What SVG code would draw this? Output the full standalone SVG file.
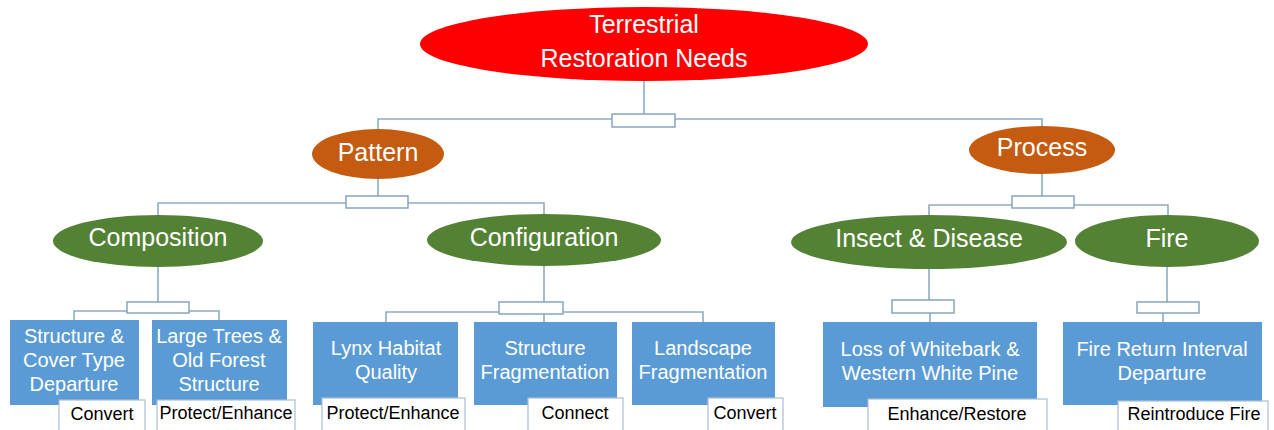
<svg xmlns="http://www.w3.org/2000/svg" width="1274" height="430" viewBox="0 0 1274 430">
<style>
.root{fill:#ff0000}
.lvl1{fill:#c55a11}
.lvl2{fill:#548235}
.box{fill:#5b9bd5}
.lbl{fill:#ffffff;stroke:#a9bfd3;stroke-width:1.2}
.conn{fill:none;stroke:#8eacc4;stroke-width:1.6}
.jn{fill:#ffffff;stroke:#7f9fba;stroke-width:1.4}
.t{font-family:"Liberation Sans",Arial,sans-serif;text-anchor:middle}
.te{fill:#ffffff;font-size:25px}
.tb{fill:#ffffff;font-size:20px}
.tl{fill:#000000;font-size:18px}
</style>
<rect width="1274" height="430" fill="#ffffff"/>
<g id="connectors">
<path class="conn" d="M644 81V114M378 129V119H612M675 119H1042V127"/>
<rect class="jn" x="612" y="114" width="63" height="13"/>
<path class="conn" d="M378 179V196M158 215V203H346M408 203H544V215"/>
<rect class="jn" x="346" y="196" width="62" height="12"/>
<path class="conn" d="M1042 174V196M929 216V205H1012M1074 205H1168V216"/>
<rect class="jn" x="1012" y="196" width="62" height="12"/>
<path class="conn" d="M158 267V302M74 320V311H127M189 311H219V320"/>
<rect class="jn" x="127" y="302" width="62" height="11"/>
<path class="conn" d="M544 266V302M386 322V312H499M563 312H703V322M544 314V322"/>
<rect class="jn" x="499" y="302" width="64" height="12"/>
<path class="conn" d="M929 269V300M930 313V322"/>
<rect class="jn" x="892" y="300" width="62" height="13"/>
<path class="conn" d="M1167 267V302M1163 313V322"/>
<rect class="jn" x="1137" y="302" width="62" height="11"/>
</g>
<g id="root">
<ellipse class="root" cx="644" cy="44" rx="224" ry="37"/>
<text class="t te" x="644" y="33">Terrestrial</text>
<text class="t te" x="644" y="67">Restoration Needs</text>
</g>
<g id="pattern">
<ellipse class="lvl1" cx="378" cy="154" rx="66" ry="25"/>
<text class="t te" x="378" y="161">Pattern</text>
</g>
<g id="process">
<ellipse class="lvl1" cx="1042" cy="150" rx="73" ry="24"/>
<text class="t te" x="1042" y="156">Process</text>
</g>
<g id="composition">
<ellipse class="lvl2" cx="158" cy="241" rx="105" ry="26"/>
<text class="t te" x="158" y="246">Composition</text>
</g>
<g id="configuration">
<ellipse class="lvl2" cx="544" cy="240" rx="117" ry="26"/>
<text class="t te" x="544" y="246">Configuration</text>
</g>
<g id="insect-disease">
<ellipse class="lvl2" cx="929" cy="242" rx="138" ry="27"/>
<text class="t te" x="929" y="247">Insect &amp; Disease</text>
</g>
<g id="fire">
<ellipse class="lvl2" cx="1167" cy="241" rx="92" ry="26"/>
<text class="t te" x="1167" y="247">Fire</text>
</g>
<g id="structure-cover">
<rect class="box" x="10" y="320" width="129" height="85"/>
<text class="t tb" x="74" y="343">Structure &amp;</text>
<text class="t tb" x="74" y="367">Cover Type</text>
<text class="t tb" x="74" y="391">Departure</text>
<rect class="lbl" x="59" y="400" width="86" height="40"/>
<text class="t tl" x="102" y="420">Convert</text>
</g>
<g id="large-trees">
<rect class="box" x="152" y="320" width="135" height="85"/>
<text class="t tb" x="219" y="343">Large Trees &amp;</text>
<text class="t tb" x="219" y="367">Old Forest</text>
<text class="t tb" x="219" y="391">Structure</text>
<rect class="lbl" x="157" y="400" width="138" height="40"/>
<text class="t tl" x="226" y="419">Protect/Enhance</text>
</g>
<g id="lynx">
<rect class="box" x="313" y="322" width="145" height="83"/>
<text class="t tb" x="386" y="355">Lynx Habitat</text>
<text class="t tb" x="386" y="379">Quality</text>
<rect class="lbl" x="322" y="398" width="143" height="42"/>
<text class="t tl" x="393" y="419">Protect/Enhance</text>
</g>
<g id="structure-frag">
<rect class="box" x="474" y="322" width="143" height="83"/>
<text class="t tb" x="545" y="355">Structure</text>
<text class="t tb" x="545" y="379">Fragmentation</text>
<rect class="lbl" x="528" y="398" width="95" height="42"/>
<text class="t tl" x="575" y="419">Connect</text>
</g>
<g id="landscape-frag">
<rect class="box" x="632" y="322" width="143" height="83"/>
<text class="t tb" x="703" y="355">Landscape</text>
<text class="t tb" x="703" y="379">Fragmentation</text>
<rect class="lbl" x="708" y="398" width="75" height="42"/>
<text class="t tl" x="745" y="419">Convert</text>
</g>
<g id="whitebark">
<rect class="box" x="823" y="322" width="214" height="85"/>
<text class="t tb" x="930" y="356">Loss of Whitebark &amp;</text>
<text class="t tb" x="930" y="380">Western  White Pine</text>
<rect class="lbl" x="868" y="399" width="179" height="41"/>
<text class="t tl" x="957" y="420">Enhance/Restore</text>
</g>
<g id="fire-return">
<rect class="box" x="1063" y="322" width="199" height="83"/>
<text class="t tb" x="1162" y="356">Fire Return  Interval</text>
<text class="t tb" x="1162" y="380">Departure</text>
<rect class="lbl" x="1118" y="401" width="150" height="39"/>
<text class="t tl" x="1194" y="420">Reintroduce Fire</text>
</g>
</svg>
